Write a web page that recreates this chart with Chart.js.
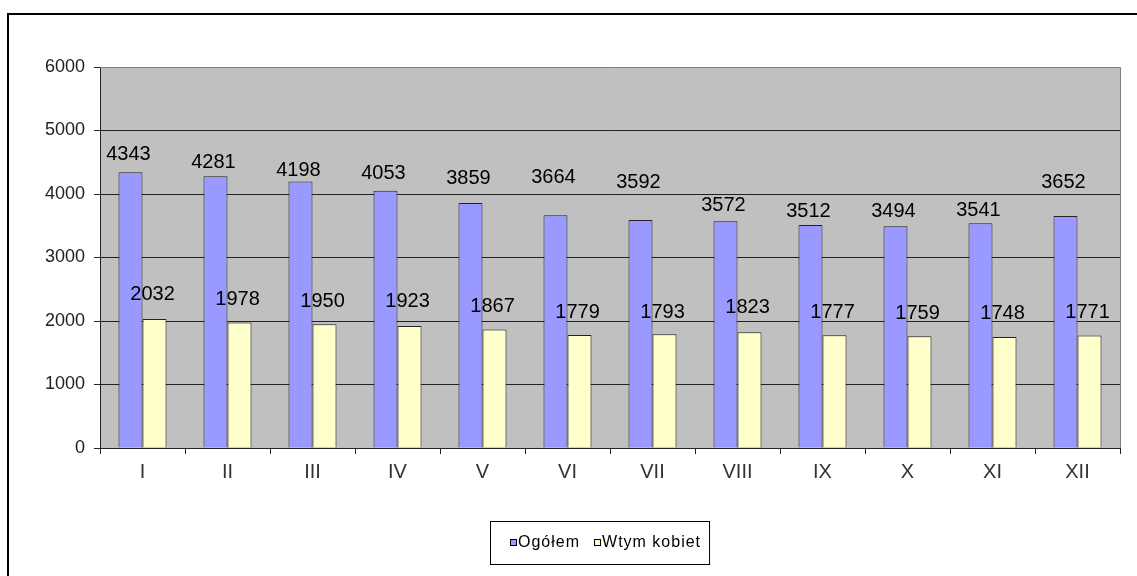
<!DOCTYPE html>
<html><head><meta charset="utf-8">
<script src="https://cdn.jsdelivr.net/npm/chart.js@4.4.1/dist/chart.umd.min.js"></script>
<style>html,body{margin:0;padding:0;background:#fff;overflow:hidden}</style>
</head><body>
<canvas id="c" width="1137" height="576" style="display:block;width:1137px;height:576px"></canvas>
<script>
const categories = ['I','II','III','IV','V','VI','VII','VIII','IX','X','XI','XII'];
const seriesNames = ['Ogółem','Wtym kobiet'];
const ogolem  = [4343,4281,4198,4053,3859,3664,3592,3572,3512,3494,3541,3652];
const kobiety = [2032,1978,1950,1923,1867,1779,1793,1823,1777,1759,1748,1771];
const yTicks = [0,1000,2000,3000,4000,5000,6000];
// label lift above bar top (px) – visual placement as in the original
const labelLiftA = [18,14,11,17,24,38,37,16,14,15,13,34];
const labelLiftB = [24,23,23,24,23,23,22,25,23,23,24,23];

const FONT = "'Liberation Sans', Arial, sans-serif";
const colors = ['#9999FF','#FFFFCC'];

const framePlugin = {
  id:'frame',
  beforeDraw(chart){
    const ctx = chart.ctx, a = chart.chartArea;
    ctx.save();
    ctx.fillStyle = '#fff';
    ctx.fillRect(0,0,chart.width,chart.height);
    ctx.fillStyle = '#000';
    ctx.fillRect(7,13,2,chart.height-13);
    ctx.fillRect(7,13,chart.width-7,2);
    ctx.fillStyle = '#C0C0C0';
    ctx.fillRect(a.left,a.top,a.right-a.left,a.bottom-a.top);
    ctx.restore();
  },
  afterDatasetsDraw(chart){
    const ctx = chart.ctx, a = chart.chartArea;
    ctx.save();
    ctx.strokeStyle = '#808080';
    ctx.lineWidth = 1;
    ctx.beginPath();
    ctx.moveTo(a.left, a.top+0.5); ctx.lineTo(a.right+0.5, a.top+0.5);
    ctx.lineTo(a.right+0.5, a.bottom);
    ctx.stroke();
    // data labels
    ctx.font = '20px ' + FONT;
    ctx.fillStyle = '#000';
    ctx.textAlign = 'center';
    ctx.textBaseline = 'middle';
    const lifts = [labelLiftA, labelLiftB];
    chart.data.datasets.forEach((ds, di) => {
      const meta = chart.getDatasetMeta(di);
      meta.data.forEach((el, i) => {
        ctx.fillText(String(ds.data[i]), el.x - 2, el.y - lifts[di][i]);
      });
    });
    // legend
    ctx.font = '16px ' + FONT;
    if ('letterSpacing' in ctx) ctx.letterSpacing = '1px';
    ctx.textAlign = 'left';
    const boxLeft = 490, boxTop = 521, boxH = 43;
    let x = boxLeft + 20;
    const cy = boxTop + 22;
    seriesNames.forEach((name, i) => {
      ctx.fillStyle = colors[i];
      ctx.fillRect(x, cy - 4, 7, 7);
      ctx.strokeStyle = '#000';
      ctx.lineWidth = 1;
      ctx.strokeRect(x + 0.5, cy - 3.5, 6, 6);
      ctx.fillStyle = '#000';
      ctx.fillText(name, x + 8, cy);
      x += 8 + ctx.measureText(name).width + (i < seriesNames.length - 1 ? 14 : 0);
    });
    const boxW = x - boxLeft + 8;
    ctx.strokeStyle = '#000';
    ctx.strokeRect(boxLeft + 0.5, boxTop + 0.5, boxW, boxH);
    ctx.restore();
  }
};

new Chart(document.getElementById('c'), {
  type: 'bar',
  data: {
    labels: categories,
    datasets: [
      { label: seriesNames[0], data: ogolem, backgroundColor: colors[0], borderColor: '#222', borderWidth: 1 },
      { label: seriesNames[1], data: kobiety, backgroundColor: colors[1], borderColor: '#222', borderWidth: 1 }
    ]
  },
  options: {
    responsive: false,
    animation: false,
    devicePixelRatio: 1,
    categoryPercentage: 0.565,
    barPercentage: 1.0,
    layout: { padding: { left: 0, top: 67, right: 17, bottom: 88 } },
    plugins: { legend: { display: false }, tooltip: { enabled: false } },
    scales: {
      x: {
        afterFit(s){ s.height = 40; },
        grid: { display: true, drawOnChartArea: false, drawTicks: true, tickLength: 6, color: '#222', offset: true },
        border: { display: true, color: '#222', width: 1 },
        ticks: { font: { family: FONT, size: 20 }, color: '#333', padding: 6, maxRotation: 0 }
      },
      y: {
        min: 0, max: 6000,
        afterFit(s){ s.width = 100; },
        afterBuildTicks(s){ s.ticks = yTicks.map(v => ({ value: v })); },
        grid: { color: c => (c.tick && c.tick.value === 6000) ? '#808080' : '#222', tickColor: '#222', tickLength: 6, lineWidth: 1 },
        border: { display: true, color: '#222', width: 1 },
        ticks: { font: { family: FONT, size: 18 }, color: '#222', padding: 9, callback: v => String(v) }
      }
    }
  },
  plugins: [framePlugin]
});
</script>
</body></html>
